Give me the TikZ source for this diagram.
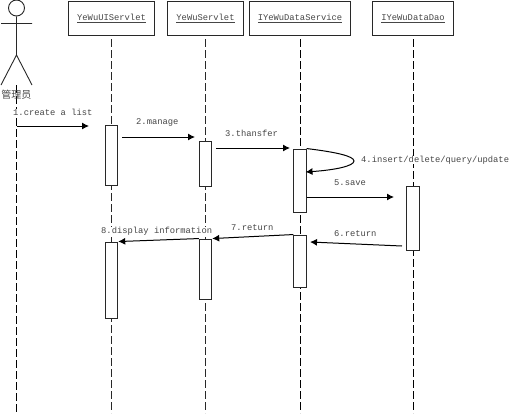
\documentclass[tikz,border=0pt]{standalone}
\usepackage{fontspec}
\usepackage{xcolor}
\usetikzlibrary{positioning, arrows.meta}
\setmonofont{Liberation Mono}
\newfontfamily\cjk{Noto Sans CJK SC}
\definecolor{seqdark}{RGB}{40, 40, 40}
\definecolor{seqtext}{RGB}{70, 70, 70}

\begin{document}
\begin{tikzpicture}[x=1pt, y=-1pt, node distance=12pt,
    headbox/.style={draw=seqdark, line width=1pt, minimum height=34pt, inner sep=0pt,
                    text=seqtext, font=\ttfamily\fontsize{8.8}{10}\selectfont},
    actbox/.style={draw=seqdark, fill=white, line width=0.9pt, minimum width=12.5pt, inner sep=0pt},
    msg/.style={text=seqtext, fill=white, inner sep=0pt, font=\ttfamily\fontsize{8.8}{10}\selectfont},
    lifeline/.style={seqdark, line width=0.9pt, dash pattern=on 8pt off 3pt},
    call/.style={-{Latex[length=7pt, width=7pt]}, line width=1pt, black}]
  \useasboundingbox (0,0) rectangle (511,413);

  % header boxes
  \node[headbox, minimum width=86pt, anchor=north west] (ui) at (68,1) {\underline{YeWuUIServlet}};
  \node[headbox, minimum width=76pt, right=of ui] (servlet) {\underline{YeWuServlet}};
  \node[headbox, minimum width=101pt, right=5pt of servlet] (service) {\underline{IYeWuDataService}};
  \node[headbox, minimum width=81pt, right=21pt of service] (dao) {\underline{IYeWuDataDao}};

  % lifeline ends
  \coordinate (actorEnd) at (16.5,413);
  \coordinate (actorTop) at (16.5,85);
  \coordinate (uiEnd) at (ui |- actorEnd);
  \coordinate (servletEnd) at (servlet |- actorEnd);
  \coordinate (serviceEnd) at (service |- actorEnd);
  \coordinate (daoEnd) at (dao |- actorEnd);
  \draw[lifeline, black] (actorTop) -- (actorEnd);
  \draw[lifeline] ([yshift=-3pt]ui.south) -- (uiEnd);
  \draw[lifeline] ([yshift=-3pt]servlet.south) -- (servletEnd);
  \draw[lifeline, black] ([yshift=-3pt]service.south) -- (serviceEnd);
  \draw[lifeline, black] ([yshift=-3pt]dao.south) -- (daoEnd);

  % actor
  \node[draw=seqdark, circle, line width=0.9pt, minimum size=16pt, inner sep=0pt] (head) at (16.5,8) {};
  \coordinate (armL) at (1,23.5);
  \coordinate (armR) at (32,23.5);
  \coordinate (hip) at (16.5,55);
  \coordinate (legL) at (1,85);
  \coordinate (legR) at (32,85);
  \draw[seqdark, line width=0.9pt] (head) -- (hip) -- (legL) (hip) -- (legR) (armL) -- (armR);
  \node[text=seqtext, inner sep=0pt, font=\cjk\fontsize{10}{12}\selectfont] (actor) at (16.5,95) {管理员};

  % activations
  \node[actbox, minimum height=60pt] (uiA) at (ui |- 0,155) {};
  \node[actbox, minimum height=45pt] (servletA) at (servlet |- 0,163.5) {};
  \node[actbox, minimum height=63pt] (serviceA) at (service |- 0,180.5) {};
  \node[actbox, minimum height=64pt] (daoA) at (dao |- 0,218) {};
  \node[actbox, minimum height=52pt] (serviceB) at (service |- 0,261) {};
  \node[actbox, minimum height=60pt] (servletB) at (servlet |- 0,269) {};
  \node[actbox, minimum height=76pt] (uiB) at (ui |- 0,280) {};

  % labels
  \node[msg, anchor=west] (t1) at (13,112) {1.create a list};
  \node[msg, anchor=west] (t2) at (136,122) {2.manage};
  \node[msg, anchor=west] (t3) at (225,133) {3.thansfer};
  \node[msg, anchor=west] (t4) at (361,160) {4.insert/delete/query/update};
  \node[msg, anchor=west] (t5) at (334,183) {5.save};
  \node[msg, anchor=west] (t6) at (334,234) {6.return};
  \node[msg, anchor=west] (t7) at (231,228) {7.return};
  \node[msg, anchor=west] (t8) at (101,231) {8.display information};

  % messages
  \coordinate (m1a) at (16.5,126);
  \coordinate (m1) at (89,126);
  \coordinate (m2a) at (122,137);
  \coordinate (m2b) at (195,137);
  \coordinate (m3a) at (216,148);
  \coordinate (m3b) at (290,148);
  \coordinate (m4) at (305.5,172);
  \coordinate (m5) at (394,197);
  \coordinate (m6a) at (402,246);
  \coordinate (m6b) at (310,242);
  \draw[call] (m1a) -- (m1);
  \draw[call] (m2a) -- (m2b);
  \draw[call] (m3a) -- (m3b);
  \draw[call] (serviceA.north east) .. controls (335,152) and (354,156) .. (354,161)
        .. controls (354,166) and (335,170) .. (m4);
  \draw[call] (serviceA.east |- m5) -- (m5);
  \draw[call] (m6a) -- (m6b);
  \draw[call] (serviceB.north west) -- (servletB.north east);
  \draw[call] (servletB.north west) -- (uiB.north east);
\end{tikzpicture}
\end{document}
